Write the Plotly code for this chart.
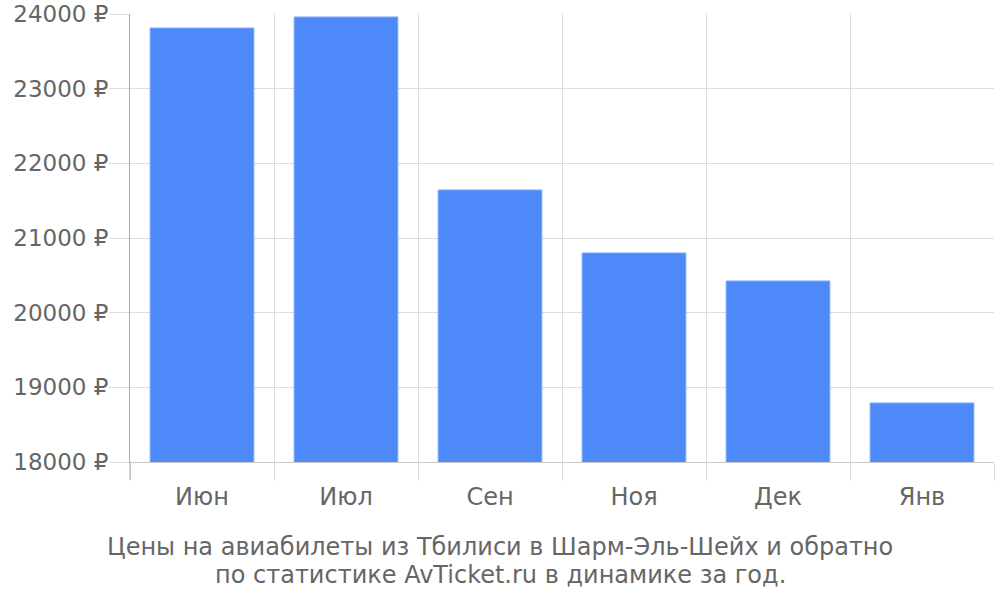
import plotly.graph_objects as go

months = ["Июн", "Июл", "Сен", "Ноя", "Дек", "Янв"]
prices = [23812, 23960, 21643, 20799, 20424, 18790]
y_ticks = [18000, 19000, 20000, 21000, 22000, 23000, 24000]
y_tick_labels = [f"{v} ₽" for v in y_ticks]
title_lines = [
    "Цены на авиабилеты из Тбилиси в Шарм-Эль-Шейх и обратно",
    "по статистике AvTicket.ru в динамике за год.",
]

font_family = "DejaVu Sans"
grey = "#666666"
fs = 24

fig = go.Figure(
    go.Bar(
        x=months,
        y=prices,
        marker=dict(color="#4d89f9", line=dict(color="#7aa6fb", width=1)),
        width=0.72,
    )
)

fig.update_layout(
    width=1000,
    height=600,
    margin=dict(l=130, r=6, t=14, b=138),
    paper_bgcolor="white",
    plot_bgcolor="white",
    showlegend=False,
    font=dict(family=font_family, size=fs, color=grey),
    xaxis=dict(
        type="category",
        tickson="boundaries",
        showgrid=True,
        gridcolor="#dddddd",
        gridwidth=1,
        ticks="outside",
        ticklen=18,
        tickcolor="#dddddd",
        showline=True,
        linecolor="#cccccc",
        tickfont=dict(size=fs, color=grey),
        ticklabelstandoff=13,
        zeroline=False,
        automargin=False,
    ),
    yaxis=dict(
        range=[18000, 24000],
        tickvals=y_ticks,
        ticktext=y_tick_labels,
        showgrid=True,
        gridcolor="#dddddd",
        ticks="outside",
        ticklen=20,
        tickcolor="#dddddd",
        showline=True,
        linecolor="#aaaaaa",
        zeroline=False,
        tickfont=dict(size=23, color=grey),
        ticklabelstandoff=-4,
        ticklabeloverflow="allow",
        automargin=False,
    ),
    annotations=[
        dict(
            text=line,
            xref="paper",
            yref="paper",
            x=370 / 864,
            y=-(yc - 462) / 448,
            xanchor="center",
            yanchor="middle",
            showarrow=False,
            font=dict(size=fs, color=grey, family=font_family),
        )
        for line, yc in zip(title_lines, [547, 575])
    ],
    shapes=[
        dict(
            type="line",
            xref="paper",
            yref="paper",
            x0=0,
            x1=0,
            y0=0,
            y1=-18 / 448,
            line=dict(color="#aaaaaa", width=1),
        )
    ],
)

fig.write_html(
    "out.html",
    config={"displayModeBar": False},
    post_script="document.body.style.margin='0';document.body.style.padding='0';",
)
